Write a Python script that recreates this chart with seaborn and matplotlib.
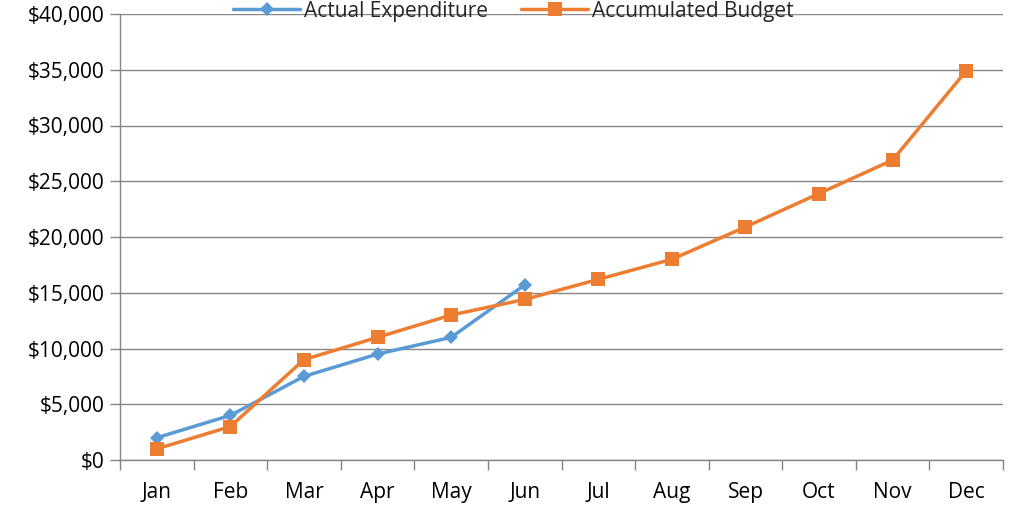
import matplotlib
matplotlib.use("Agg")
import matplotlib.pyplot as plt
import matplotlib.ticker as mticker
import seaborn as sns
import pandas as pd
import numpy as np

months = ["Jan", "Feb", "Mar", "Apr", "May", "Jun", "Jul", "Aug", "Sep", "Oct", "Nov", "Dec"]
actual = [2000, 4000, 7500, 9500, 11000, 15700]
budget = [1000, 3000, 9000, 11000, 13000, 14400, 16200, 18000, 20900, 23900, 26900, 34900]
y_ticks = [0, 5000, 10000, 15000, 20000, 25000, 30000, 35000, 40000]

sns.set_theme(style="white")
plt.rcParams["font.family"] = ["Open Sans", "DejaVu Sans"]

fig = plt.figure(figsize=(10.13, 5.13), dpi=100)
ax = fig.add_axes([120 / 1013, 1 - 460 / 513, (1003 - 120) / 1013, (460 - 14) / 513])

df_a = pd.DataFrame({"x": np.arange(len(actual)), "y": actual})
df_b = pd.DataFrame({"x": np.arange(len(budget)), "y": budget})

sns.lineplot(data=df_a, x="x", y="y", ax=ax, color="#5B9BD5", lw=2.5, marker="D",
             markersize=7.5, markeredgewidth=0, label="Actual Expenditure", zorder=3)
sns.lineplot(data=df_b, x="x", y="y", ax=ax, color="#ED7D31", lw=2.5, marker="s",
             markersize=9.5, markeredgewidth=0, label="Accumulated Budget", zorder=4)

ax.set_xlim(-0.5, len(months) - 0.5)
ax.set_ylim(0, 40000)
ax.set_yticks(y_ticks)
ax.yaxis.set_major_formatter(mticker.FuncFormatter(lambda v, p: f"${int(v):,}"))
ax.set_xticks(np.arange(len(months)))
ax.set_xticklabels(months)
ax.set_xticks(np.arange(-0.5, len(months)), minor=True)
ax.tick_params(axis="x", which="major", length=0, labelsize=15, pad=16, colors="#000000",
               bottom=True)
ax.tick_params(axis="x", which="minor", length=7, width=1, color="#868686", direction="out",
               bottom=True)
ax.tick_params(axis="y", length=7, width=1, color="#868686", direction="out", labelsize=15,
               pad=4, left=True, labelcolor="#000000")
ax.set_xlabel("")
ax.set_ylabel("")
ax.grid(axis="y", color="#868686", lw=1)
ax.set_axisbelow(True)
for s in ["top", "right"]:
    ax.spines[s].set_visible(False)
ax.spines["left"].set_color("#868686")
ax.spines["bottom"].set_color("#868686")
ax.spines["left"].set_linewidth(1)
ax.spines["bottom"].set_linewidth(1)

ax.legend(loc="center", bbox_to_anchor=(0.507, 0.978), bbox_transform=fig.transFigure,
          ncol=2, frameon=False, fontsize=15, handlelength=3.2, columnspacing=1.6,
          handletextpad=0.2, borderpad=0.0)

fig.savefig("out.png", dpi=100)
